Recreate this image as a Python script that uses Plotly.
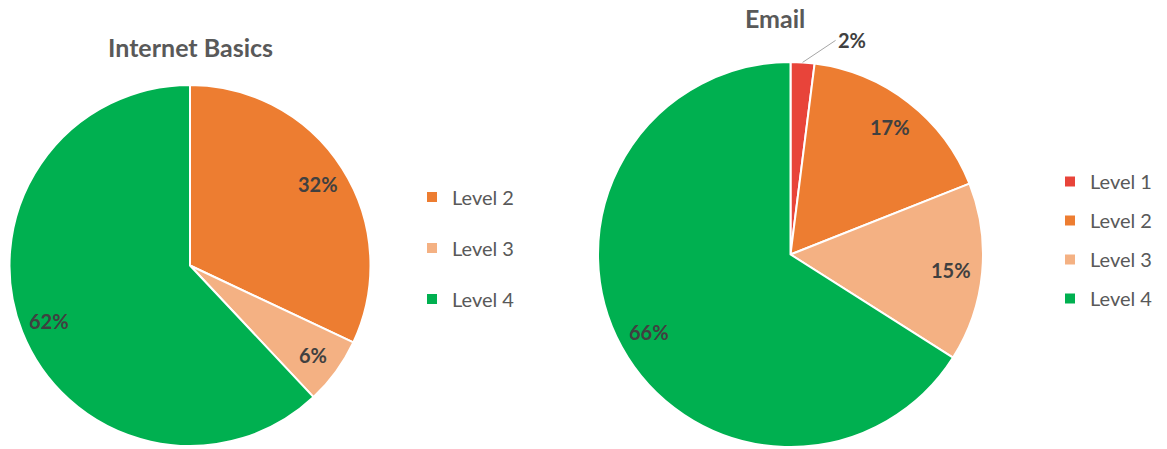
import math
import plotly.graph_objects as go

W, H = 1167, 449

# ---- data ----
titles = ["Internet Basics", "Email"]
levels_ib = ["Level 2", "Level 3", "Level 4"]
values_ib = [32, 6, 62]
levels_em = ["Level 1", "Level 2", "Level 3", "Level 4"]
values_em = [2, 17, 15, 66]

level_colors = {"Level 1": "#E8443A", "Level 2": "#ED7D31",
                "Level 3": "#F4B183", "Level 4": "#00B050"}

FONT = "Lato"
GRAY = "#595959"
DARK = "#404040"

# pie domains (paper fractions)
dom_ib = dict(x=[9 / W, 371 / W], y=[1 - 446 / H, 1 - 85 / H])
dom_em = dict(x=[598 / W, 983 / W], y=[1 - 447 / H, 1 - 62 / H])

fig = go.Figure()
annotations = []


def add_pie(labels, values, dom, legend_name):
    fig.add_trace(go.Pie(
        labels=labels, values=values, sort=False, direction="clockwise",
        rotation=0, domain=dom, textinfo="none", hoverinfo="label+percent",
        marker=dict(colors=[level_colors[l] for l in labels],
                    line=dict(color="white", width=2)),
        showlegend=False,
    ))
    # legend entries
    for l in labels:
        fig.add_trace(go.Scatter(
            x=[None], y=[None], mode="markers", name=l,
            marker=dict(symbol="square", size=10, color=level_colors[l]),
            legend=legend_name, legendgroup=legend_name + l, showlegend=True,
            hoverinfo="skip",
        ))
    # percentage labels computed from data
    x0, x1 = dom["x"][0] * W, dom["x"][1] * W
    ytop, ybot = (1 - dom["y"][1]) * H, (1 - dom["y"][0]) * H
    cx, cy = (x0 + x1) / 2, (ytop + ybot) / 2
    r = min(x1 - x0, ybot - ytop) / 2
    total = sum(values)
    cum = 0
    for v in values:
        mid = (cum + v / 2) / total * 2 * math.pi
        cum += v
        sx, sy = math.sin(mid), -math.cos(mid)
        if v / total < 0.04:
            tx, ty = cx + sx * r, cy + sy * r
            annotations.append(dict(
                x=tx / W, y=1 - ty / H, xref="paper", yref="paper",
                text=f"<b>{v}%</b>", showarrow=True, arrowhead=0,
                arrowwidth=1, arrowcolor="#A6A6A6", ax=33, ay=-22,
                xanchor="left", yanchor="middle",
                font=dict(family=FONT, size=20, color=DARK),
            ))
        else:
            tx, ty = cx + sx * r * 0.84, cy + sy * r * 0.84
            annotations.append(dict(
                x=tx / W, y=1 - ty / H, xref="paper", yref="paper",
                text=f"<b>{v}%</b>", showarrow=False,
                xanchor="center", yanchor="middle",
                font=dict(family=FONT, size=20, color=DARK),
            ))


add_pie(levels_ib, values_ib, dom_ib, "legend")
add_pie(levels_em, values_em, dom_em, "legend2")

annotations.append(dict(x=190 / W, y=1 - 47 / H, xref="paper", yref="paper",
                        text=f"<b>{titles[0]}</b>", showarrow=False,
                        xanchor="center", yanchor="middle",
                        font=dict(family=FONT, size=25, color=GRAY)))
annotations.append(dict(x=775 / W, y=1 - 18 / H, xref="paper", yref="paper",
                        text=f"<b>{titles[1]}</b>", showarrow=False,
                        xanchor="center", yanchor="middle",
                        font=dict(family=FONT, size=25, color=GRAY)))

legend_font = dict(family=FONT, size=20, color=GRAY)
fig.update_layout(
    width=W, height=H,
    margin=dict(l=0, r=0, t=0, b=0),
    paper_bgcolor="white", plot_bgcolor="white",
    xaxis=dict(visible=False), yaxis=dict(visible=False),
    annotations=annotations,
    legend=dict(x=412 / W, y=1 - 248 / H, xanchor="left", yanchor="middle",
                font=legend_font, tracegroupgap=22, bgcolor="rgba(0,0,0,0)"),
    legend2=dict(x=1050 / W, y=1 - 240 / H, xanchor="left", yanchor="middle",
                 font=legend_font, tracegroupgap=10, bgcolor="rgba(0,0,0,0)"),
)

fig.write_html("out.html", config={"displayModeBar": False},
               post_script="document.body.style.margin='0';")
